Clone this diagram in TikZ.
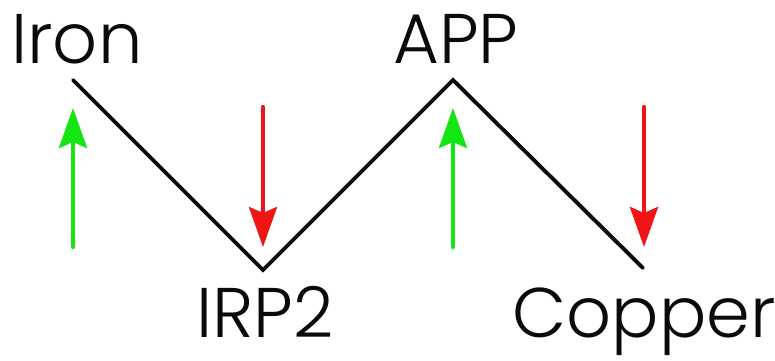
\documentclass[tikz,border=0pt]{standalone}
\usepackage{fontspec}
\setmainfont{Poppins Light}
\usetikzlibrary{arrows.meta}
\definecolor{upc}{RGB}{20,230,20}
\definecolor{downc}{RGB}{240,20,20}
\definecolor{inkc}{RGB}{10,10,10}

\begin{document}
\begin{tikzpicture}[x=0.02cm, y=-0.02cm, line cap=round,
  lbl/.style={inkc, anchor=base, font=\fontsize{40}{44}\selectfont, inner sep=0pt},
  upar/.style={upc, line width=2.4pt, -{Stealth[length=0.8cm, width=0.56cm, inset=0.12cm]}},
  downar/.style={downc, line width=2.4pt, -{Stealth[length=0.8cm, width=0.56cm, inset=0.12cm]}}]
  \useasboundingbox (0,0) rectangle (775,360);

  % labels
  \node[lbl] (iron)   at (77,63)  {Iron};
  \node[lbl] (app)    at (456,63) {APP};
  \node[lbl] (irp)    at (265,337) {IRP2};
  \node[lbl] (copper) at (644,337) {Copper};

  % zigzag
  \coordinate (p1) at (73,80);
  \coordinate (p2) at (263,270);
  \coordinate (p3) at (453,80);
  \coordinate (p4) at (643,268);
  \draw[inkc, line width=2.2pt, line join=miter] (p1) -- (p2) -- (p3) -- (p4);

  % up / down arrows
  \draw[upar]   (73,247)  -- (73,108);
  \draw[downar] (263,107) -- (263,247);
  \draw[upar]   (453,247) -- (453,108);
  \draw[downar] (644,107) -- (644,247);
\end{tikzpicture}
\end{document}
